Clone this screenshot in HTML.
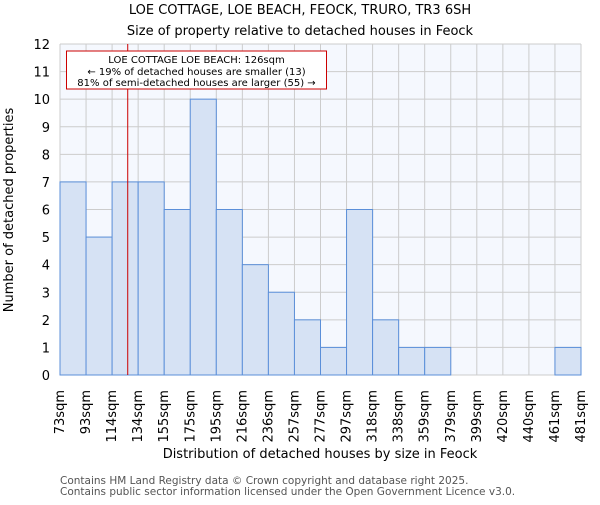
<!DOCTYPE html>
<html><head><meta charset="utf-8"><style>
body{margin:0;background:#fff;font-family:"Liberation Sans","DejaVu Sans",sans-serif}
</style></head><body>
<svg width="600" height="500" xmlns="http://www.w3.org/2000/svg" font-family="DejaVu Sans, Liberation Sans, sans-serif">
<g id="root"></g>
</svg>
<script>
const categories=["73sqm","93sqm","114sqm","134sqm","155sqm","175sqm","195sqm","216sqm","236sqm","257sqm","277sqm","297sqm","318sqm","338sqm","359sqm","379sqm","399sqm","420sqm","440sqm","461sqm","481sqm"];
const counts=[7,5,7,7,6,10,6,4,3,2,1,6,2,1,1,0,0,0,0,1];
const yTicks=[0,1,2,3,4,5,6,7,8,9,10,11,12];
const propertySize=126;
const binStarts=[73,93,114,134,155,175,195,216,236,257,277,297,318,338,359,379,399,420,440,461,481];
const NS="http://www.w3.org/2000/svg";
const root=document.getElementById('root');
const L=60,R=581,T=44,B=375,yMax=12;
const bw=(R-L)/counts.length;
const x=i=>L+i*bw;
const y=v=>B-(v/yMax)*(B-T);
function mk(t,a,txt){const e=document.createElementNS(NS,t);for(const k in a)e.setAttribute(k,a[k]);if(txt!=null)e.textContent=txt;root.appendChild(e);return e;}
let e=mk('rect',{x:L,y:T,width:R-L,height:B-T,fill:'#f5f8fe'});


for(let i=0;i<=counts.length;i++){e=mk('line',{x1:x(i),x2:x(i),y1:T,y2:B,stroke:'#cccccc','stroke-width':1});

}
yTicks.forEach(t=>{e=mk('line',{x1:L,x2:R,y1:y(t),y2:y(t),stroke:'#cccccc','stroke-width':1});


e=mk('text',{x:L-10,y:y(t)+5,'text-anchor':'end','font-size':13,fill:'#000'},t);

});
counts.forEach((c,i)=>{e=mk('rect',{x:x(i),y:y(c),width:bw,height:B-y(c),fill:'#d6e2f4',stroke:'#5b8fd9','stroke-width':1});

});
categories.forEach((c,i)=>{const px=x(i)+4;e=mk('text',{x:px,y:390,'text-anchor':'end','font-size':13,fill:'#000',transform:`rotate(-90 ${px} 390)`},c);

});
// marker line
let bi=0;for(let i=0;i<binStarts.length-1;i++){if(propertySize>=binStarts[i])bi=i;}
const mx=x(bi)+(propertySize-binStarts[bi])/(binStarts[bi+1]-binStarts[bi])*bw;
e=mk('line',{x1:mx,x2:mx,y1:T,y2:B,stroke:'#cc0000','stroke-width':1});


e=mk('rect',{x:66.5,y:51,width:260,height:38,fill:'#fff',stroke:'#cc0000','stroke-width':1});


[["LOE COTTAGE LOE BEACH: 126sqm",63],["← 19% of detached houses are smaller (13)",75],["81% of semi-detached houses are larger (55) →",86]].forEach(([t,yy])=>{e=mk('text',{x:196.5,y:yy,'text-anchor':'middle','font-size':10,fill:'#000'},t);

});
e=mk('text',{x:300,y:14,'text-anchor':'middle','font-size':13,fill:'#000'},"LOE COTTAGE, LOE BEACH, FEOCK, TRURO, TR3 6SH");


e=mk('text',{x:300,y:35,'text-anchor':'middle','font-size':13,fill:'#000'},"Size of property relative to detached houses in Feock");


e=mk('text',{x:320,y:458,'text-anchor':'middle','font-size':13,fill:'#000'},"Distribution of detached houses by size in Feock");


e=mk('text',{x:13,y:210,'text-anchor':'middle','font-size':13,fill:'#000',transform:'rotate(-90 13 210)'},"Number of detached properties");


e=mk('text',{x:60,y:484,'font-size':10.5,fill:'#555'},"Contains HM Land Registry data © Crown copyright and database right 2025.");


e=mk('text',{x:60,y:495,'font-size':10.5,fill:'#555'},"Contains public sector information licensed under the Open Government Licence v3.0.");


</script>
</body></html>
